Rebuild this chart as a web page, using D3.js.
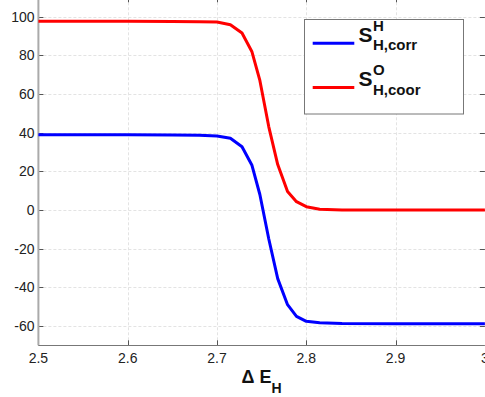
<!DOCTYPE html>
<html>
<head>
<meta charset="utf-8">
<script src="https://cdn.jsdelivr.net/npm/d3@7"></script>
<style>
  html, body { margin: 0; padding: 0; background: #fff; }
  svg { display: block; font-family: "Liberation Sans", Arial, sans-serif; }
</style>
</head>
<body>
<div id="chart"></div>
<script>
const width = 485;
const height = 397;

// data
const deltaE = [2.5, 2.6, 2.65, 2.68, 2.70, 2.715, 2.728, 2.739, 2.748, 2.758, 2.768, 2.779, 2.789, 2.80, 2.815, 2.84, 2.9, 3.0];
const sH = [38.9, 38.9, 38.8, 38.6, 38.3, 37.1, 32.7, 23.3, 8.0, -15.0, -35.5, -49.0, -55.0, -57.6, -58.3, -58.7, -58.8, -58.8];
const sO = [97.6, 97.6, 97.5, 97.4, 97.2, 95.8, 91.5, 82.0, 67.0, 43.0, 23.5, 9.5, 4.3, 1.7, 0.4, 0.0, 0.0, 0.0];
const xTicks = [2.5, 2.6, 2.7, 2.8, 2.9, 3.0];
const xTickLabels = ['2.5', '2.6', '2.7', '2.8', '2.9', '3'];
const yTicks = [-60, -40, -20, 0, 20, 40, 60, 80, 100];

const x = d3.scaleLinear().domain([2.5, 3.0]).range([38.4, 484.9]);
const y = d3.scaleLinear().domain([-70, 110]).range([345.3, -2.7]);

const svg = d3.select('#chart')
  .append('svg')
  .attr('width', width)
  .attr('height', height);

// grid
const grid = svg.append('g')
  .attr('stroke', '#e3e3e3')
  .attr('stroke-width', 1)
  .attr('stroke-dasharray', '3,2');
grid.selectAll('line.v')
  .data(xTicks.slice(1, -1))
  .join('line')
  .attr('x1', (d) => Math.round(x(d)) + 0.5)
  .attr('x2', (d) => Math.round(x(d)) + 0.5)
  .attr('y1', y(110))
  .attr('y2', y(-70));
grid.selectAll('line.h')
  .data(yTicks)
  .join('line')
  .attr('x1', x(2.5))
  .attr('x2', x(3))
  .attr('y1', (d) => Math.round(y(d)) + 0.5)
  .attr('y2', (d) => Math.round(y(d)) + 0.5);

// ticks, pointing inward on all four sides
const ticks = svg.append('g').attr('stroke', '#555').attr('stroke-width', 1);
xTicks.forEach((t) => {
  const px = Math.round(x(t)) + 0.5;
  ticks.append('line').attr('x1', px).attr('x2', px).attr('y1', y(-70)).attr('y2', y(-70) - 5);
  ticks.append('line').attr('x1', px).attr('x2', px).attr('y1', y(110)).attr('y2', y(110) + 5);
});
yTicks.forEach((t) => {
  const py = Math.round(y(t)) + 0.5;
  ticks.append('line').attr('x1', x(2.5)).attr('x2', x(2.5) + 5).attr('y1', py).attr('y2', py);
  ticks.append('line').attr('x1', x(3)).attr('x2', x(3) - 5).attr('y1', py).attr('y2', py);
});

// axis lines
svg.append('line')
  .attr('x1', x(2.5)).attr('x2', x(2.5))
  .attr('y1', y(110)).attr('y2', y(-70))
  .attr('stroke', '#aaa').attr('stroke-width', 2);
svg.append('line')
  .attr('x1', x(2.5)).attr('x2', x(3))
  .attr('y1', Math.round(y(-70)) + 0.5).attr('y2', Math.round(y(-70)) + 0.5)
  .attr('stroke', '#777').attr('stroke-width', 1);

// tick labels
svg.append('g')
  .attr('font-size', 14)
  .attr('fill', '#222')
  .selectAll('text')
  .data(yTicks)
  .join('text')
  .attr('x', 34.5)
  .attr('y', (d) => y(d))
  .attr('dy', '0.35em')
  .attr('text-anchor', 'end')
  .text((d) => d);
svg.append('g')
  .attr('font-size', 14)
  .attr('fill', '#222')
  .selectAll('text')
  .data(xTicks)
  .join('text')
  .attr('x', (d) => x(d))
  .attr('y', 363)
  .attr('text-anchor', 'middle')
  .text((d, i) => xTickLabels[i]);

// axis title
const xt = svg.append('text')
  .attr('x', (x(2.5) + x(3)) / 2)
  .attr('y', 383)
  .attr('text-anchor', 'middle')
  .attr('font-weight', 'bold')
  .attr('fill', '#111');
xt.append('tspan').attr('font-size', 18).text('\u0394 E');
xt.append('tspan').attr('font-size', 14).attr('dy', 9.5).text('H');

// curves
const line = d3.line()
  .x((d) => x(d[0]))
  .y((d) => y(d[1]));
const series = [
  { values: sH, color: '#0000ff' },
  { values: sO, color: '#ff0000' },
];
svg.append('g')
  .attr('fill', 'none')
  .attr('stroke-width', 3)
  .attr('stroke-linejoin', 'round')
  .selectAll('path')
  .data(series)
  .join('path')
  .attr('stroke', (d) => d.color)
  .attr('d', (d) => line(deltaE.map((e, i) => [e, d.values[i]])));

// legend
const legend = svg.append('g');
legend.append('rect')
  .attr('x', 304.5).attr('y', 19.5)
  .attr('width', 159).attr('height', 94.5)
  .attr('fill', '#fff')
  .attr('stroke', '#777');
const entries = [
  { color: '#0000ff', sup: 'H', sub: 'H,corr', base: 41.7 },
  { color: '#ff0000', sup: 'O', sub: 'H,coor', base: 86 },
];
entries.forEach((e) => {
  legend.append('line')
    .attr('x1', 312.7).attr('x2', 354.3)
    .attr('y1', e.base + 1.5).attr('y2', e.base + 1.5)
    .attr('stroke', e.color).attr('stroke-width', 3);
  const s = legend.append('text')
    .attr('x', 358.5).attr('y', e.base)
    .attr('font-size', 21).attr('font-weight', 'bold')
    .attr('fill', '#111')
    .text('S');
  const sx = 358.5 + s.node().getComputedTextLength() + 0.5;
  legend.append('text')
    .attr('x', sx).attr('y', e.base - 11)
    .attr('font-size', 15).attr('font-weight', 'bold')
    .attr('fill', '#111')
    .text(e.sup);
  legend.append('text')
    .attr('x', sx).attr('y', e.base + 8.5)
    .attr('font-size', 15).attr('font-weight', 'bold')
    .attr('fill', '#111')
    .text(e.sub);
});
</script>
</body>
</html>
